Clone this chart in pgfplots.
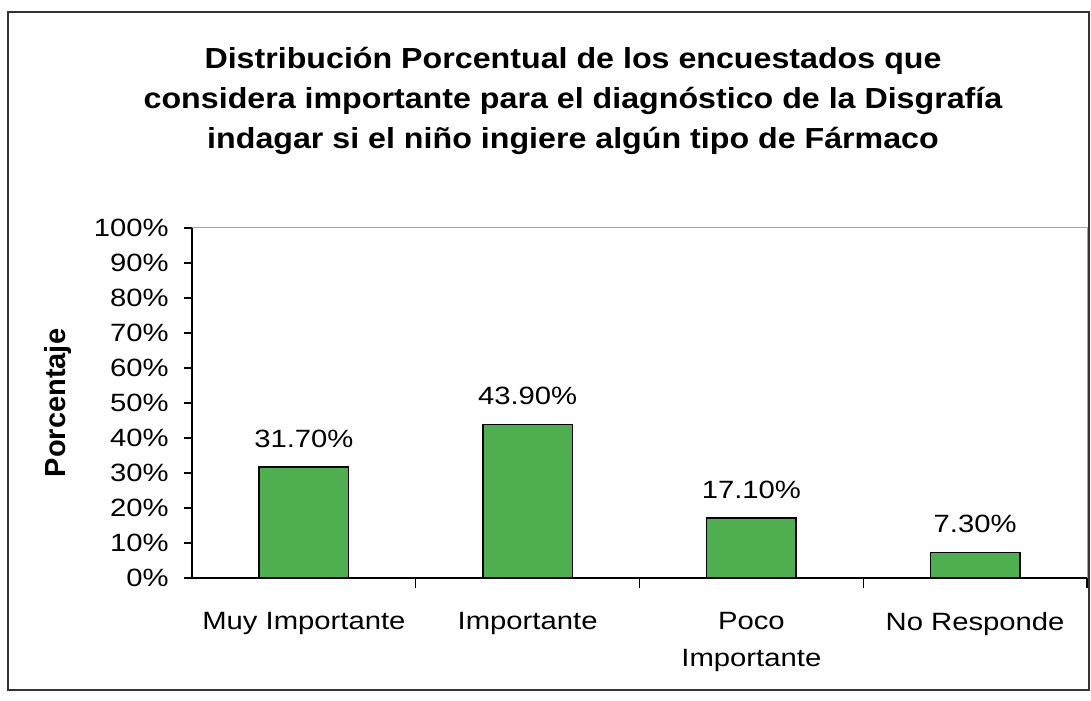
\documentclass[border=0pt]{standalone}
\usepackage{pgfplots}
\pgfplotsset{compat=1.18}
\usepackage{fontspec}
\setmainfont{Liberation Sans}
\usepackage{graphicx}
% the scanned chart is stretched sideways
\newcommand\sx[2][1.17]{\scalebox{#1}[1]{#2}}
\definecolor{barg}{RGB}{78,174,80}

\begin{document}
\begin{tikzpicture}
\begin{axis}[
    scale only axis, width=447.5bp, height=175bp,
    xmin=-0.5, xmax=3.5, ymin=0, ymax=100,
    clip=false, ybar,
    axis x line*=bottom, axis y line*=left,
    axis line style={black, line width=0.8pt, -},
    /pgf/number format/assume math mode=true,
    ytick={0,10,...,100},
    yticklabel={\sx{\pgfmathprintnumber{\tick}\%}},
    yticklabel style={inner sep=0pt, xshift=-7.5bp},
    xtick={0,1,2,3},
    xticklabels={{\sx{Muy Importante}},{\sx{Importante}},{\sx{Poco}\\\sx{Importante}},{\sx{No Responde}}},
    xticklabel style={align=center, inner sep=0pt, yshift=-13bp},
    major x tick style={draw=none},
    minor xtick={0.5,1.5,2.5,3.5},
    tick align=outside,
    major tick length=4bp, minor tick length=5bp,
    tick style={black, line width=0.6pt},
    every tick label/.append style={font=\fontsize{12.5bp}{18.5bp}\selectfont},
    nodes near coords={\sx{\pgfmathprintnumber[fixed,fixed zerofill,precision=2]{\pgfplotspointmeta}\%}},
    nodes near coords style={font=\fontsize{12.5bp}{15bp}\selectfont, anchor=base, yshift=10bp, black},
]
\draw[gray!70, line width=0.5pt] (rel axis cs:0,1) -- (rel axis cs:1,1) -- (rel axis cs:1,0);
\addplot[fill=barg, draw=black, line width=0.8pt, bar width=0.4]
    coordinates {(0,31.7) (1,43.9) (2,17.1) (3,7.3)};

\node[rotate=90, font=\fontsize{14.5bp}{17bp}\selectfont\bfseries]
    at ([xshift=-67bp]rel axis cs:0,0.5) {Porcentaje};
\node[anchor=base, font=\fontsize{14.5bp}{20bp}\selectfont\bfseries]
    at ([xshift=190.5bp,yshift=79.5bp]rel axis cs:0,1) {\sx[1.11]{Distribución Porcentual de los encuestados que}};
\node[anchor=base, font=\fontsize{14.5bp}{20bp}\selectfont\bfseries]
    at ([xshift=190.5bp,yshift=59.5bp]rel axis cs:0,1) {\sx[1.11]{considera importante para el diagnóstico de la Disgrafía}};
\node[anchor=base, font=\fontsize{14.5bp}{20bp}\selectfont\bfseries]
    at ([xshift=190.5bp,yshift=39.5bp]rel axis cs:0,1) {\sx[1.11]{indagar si el niño ingiere algún tipo de Fármaco}};

\draw[black!80, line width=0.6pt] ([xshift=-92bp,yshift=-56bp]rel axis cs:0,0)
    rectangle ([xshift=1bp,yshift=108bp]rel axis cs:1,1);
\path ([xshift=-96bp,yshift=-61.5bp]rel axis cs:0,0) -- ([xshift=2bp,yshift=114bp]rel axis cs:1,1);
\end{axis}
\end{tikzpicture}
\end{document}
